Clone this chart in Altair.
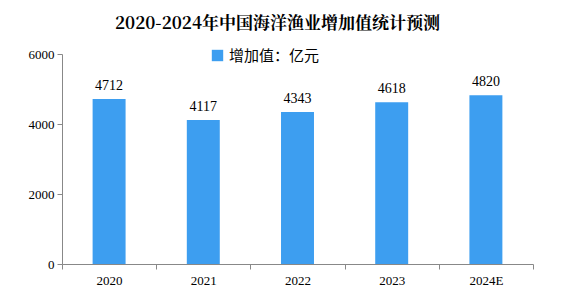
import altair as alt
import pandas as pd

years = ["2020", "2021", "2022", "2023", "2024E"]
values = [4712, 4117, 4343, 4618, 4820]
series = ["增加值：亿元"] * len(years)

df = pd.DataFrame({"year": years, "value": values, "series": series})

xaxis = alt.Axis(labelAngle=0, labelFont="Liberation Serif", labelFontSize=13,
                 labelColor="#000", domainColor="#888", tickColor="#888",
                 tickSize=5, labelPadding=5, tickBand="extent")

base = alt.Chart(df).encode(
    x=alt.X("year:N", sort=years, title=None,
            scale=alt.Scale(paddingInner=0, paddingOuter=0),
            axis=xaxis),
)

bars = base.mark_bar(color="#3d9ef0", width=alt.RelativeBandSize(0.35)).encode(
    y=alt.Y("value:Q", title=None, scale=alt.Scale(domain=[0, 6000]),
            axis=alt.Axis(values=[0, 2000, 4000, 6000], grid=False, format="d",
                          labelFont="Liberation Serif", labelFontSize=13, labelColor="#000",
                          domainColor="#888", tickColor="#888", tickSize=5, labelPadding=3)),
    color=alt.Color("series:N", scale=alt.Scale(range=["#3d9ef0"]),
                    legend=alt.Legend(title=None, orient="none", legendX=148, legendY=-6,
                                      symbolType="square", symbolSize=130,
                                      labelFont="Noto Sans CJK SC", labelFontSize=15,
                                      labelColor="#000")),
)

labels = base.mark_text(dy=-13, font="Liberation Serif", fontSize=14, color="#000").encode(
    y=alt.Y("value:Q"),
    text=alt.Text("value:Q", format="d"),
)

chart = (bars + labels).properties(
    width=471, height=210,
    title=alt.Title("2020-2024年中国海洋渔业增加值统计预测", font="Noto Serif CJK SC, Noto Sans CJK SC",
                    fontSize=17, fontWeight="bold", color="#000", anchor="middle",
                    offset=15, dx=-20),
    autosize=alt.AutoSizeParams(type="none"),
    padding={"left": 62, "top": 54, "right": 31, "bottom": 36},
).configure_view(stroke=None)

chart.save("out.html", embed_options={"renderer": "svg", "actions": False})
